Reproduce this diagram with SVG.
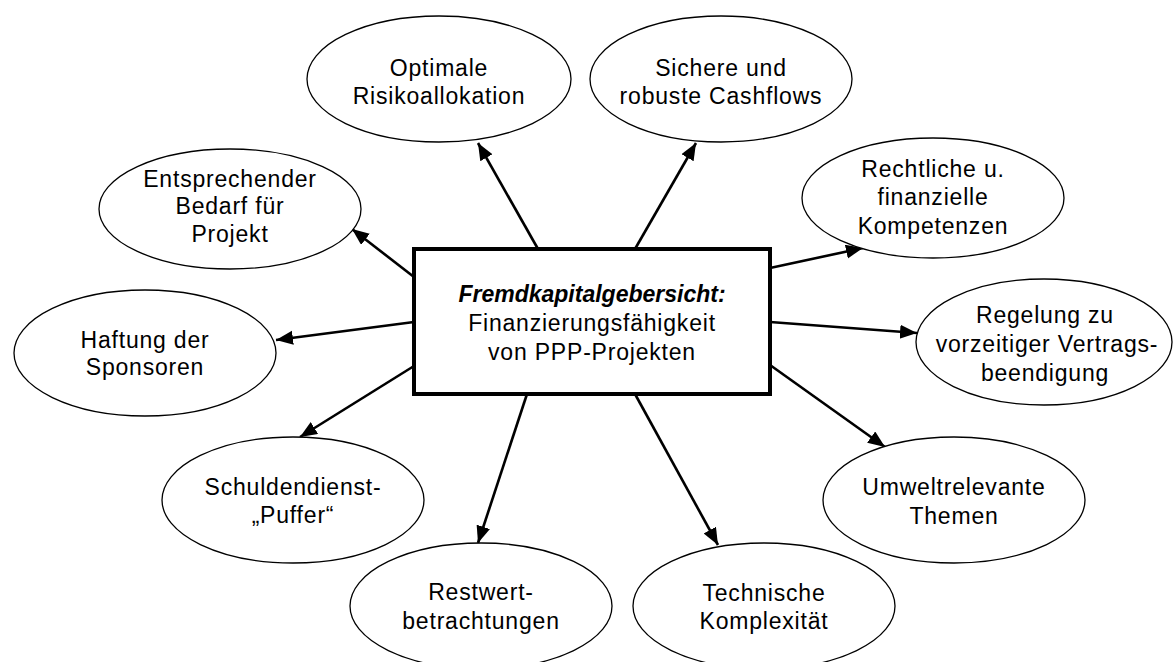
<svg xmlns="http://www.w3.org/2000/svg" width="1173" height="662" viewBox="0 0 1173 662">
<style>
.n ellipse{fill:#fff;stroke:#000;stroke-width:1.3}
text{font-family:"Liberation Sans",Arial,sans-serif;font-size:23px;letter-spacing:0.8px;fill:#000;text-anchor:middle}
.c line{stroke:#000;stroke-width:2.6;marker-end:url(#ah)}
.b{font-weight:bold;font-style:italic;letter-spacing:0}
</style>
<defs>
<marker id="ah" markerUnits="userSpaceOnUse" markerWidth="18" markerHeight="15" refX="17" refY="7" orient="auto">
<path d="M0,0 L17,7 L0,14 z" fill="#000"/>
</marker>
</defs>
<rect width="1173" height="662" fill="#fff"/>
<g class="c" id="connectors">
<line x1="538" y1="249" x2="478" y2="143"/>
<line x1="635" y1="249" x2="696" y2="143"/>
<line x1="414" y1="277" x2="352" y2="229"/>
<line x1="414" y1="322" x2="276" y2="340"/>
<line x1="414" y1="366" x2="300" y2="437"/>
<line x1="527" y1="394" x2="478" y2="543"/>
<line x1="635" y1="394" x2="718" y2="545"/>
<line x1="770" y1="365" x2="885" y2="447"/>
<line x1="770" y1="322" x2="917" y2="333"/>
<line x1="770" y1="268" x2="863" y2="248"/>
</g>
<g id="center">
<rect x="414" y="249" width="356" height="145" fill="#fff" stroke="#000" stroke-width="4"/>
<text x="592" y="302" class="b">Fremdkapitalgebersicht:</text>
<text x="592" y="331">Finanzierungsfähigkeit</text>
<text x="592" y="360">von PPP-Projekten</text>
</g>
<g class="n" id="n1"><ellipse cx="439" cy="79" rx="132" ry="63"/><text x="439" y="76">Optimale</text><text x="439" y="104">Risikoallokation</text></g>
<g class="n" id="n2"><ellipse cx="721" cy="79" rx="131" ry="63"/><text x="721" y="76">Sichere und</text><text x="721" y="104">robuste Cashflows</text></g>
<g class="n" id="n3"><ellipse cx="230" cy="209" rx="131" ry="60"/><text x="230" y="187">Entsprechender</text><text x="230" y="214">Bedarf für</text><text x="230" y="242">Projekt</text></g>
<g class="n" id="n4"><ellipse cx="933" cy="198" rx="131" ry="60"/><text x="933" y="177">Rechtliche u.</text><text x="933" y="205">finanzielle</text><text x="933" y="234">Kompetenzen</text></g>
<g class="n" id="n5"><ellipse cx="145" cy="353" rx="131" ry="63"/><text x="145" y="348">Haftung der</text><text x="145" y="375">Sponsoren</text></g>
<g class="n" id="n6"><ellipse cx="1044" cy="342" rx="128" ry="63"/><text x="1045" y="323">Regelung zu</text><text x="1047" y="352">vorzeitiger Vertrags-</text><text x="1045" y="381">beendigung</text></g>
<g class="n" id="n7"><ellipse cx="293" cy="500" rx="131" ry="63"/><text x="293" y="495">Schuldendienst-</text><text x="293" y="523">„Puffer“</text></g>
<g class="n" id="n8"><ellipse cx="954" cy="500" rx="131" ry="63"/><text x="954" y="495">Umweltrelevante</text><text x="954" y="524">Themen</text></g>
<g class="n" id="n9"><ellipse cx="481" cy="606" rx="131" ry="63"/><text x="481" y="600">Restwert-</text><text x="481" y="629">betrachtungen</text></g>
<g class="n" id="n10"><ellipse cx="764" cy="606" rx="131" ry="63"/><text x="764" y="601">Technische</text><text x="764" y="629">Komplexität</text></g>
</svg>
